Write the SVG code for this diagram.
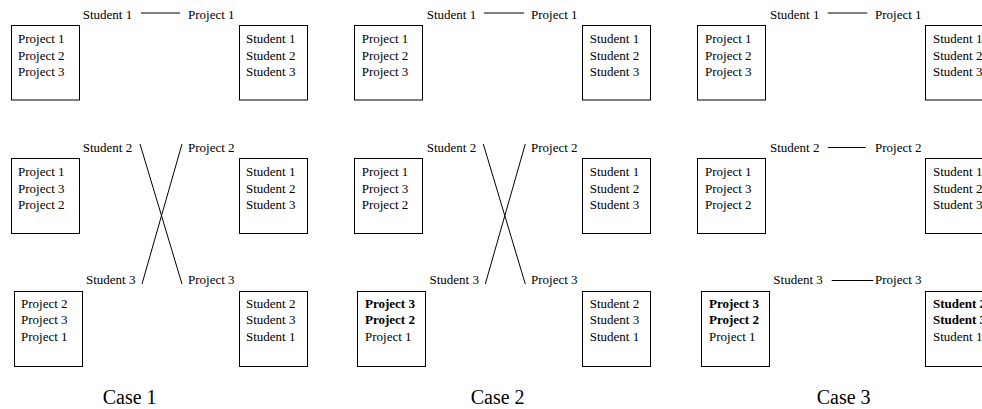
<svg xmlns="http://www.w3.org/2000/svg" width="982" height="409" viewBox="0 0 982 409">
<style>
text{font-family:"Liberation Serif","Times New Roman",serif;font-size:13px;fill:#000}
.b{font-weight:bold}
.case{font-size:20px}
rect{fill:#fff;stroke:#000;stroke-width:1}
line{stroke:#000;stroke-width:1}
</style>
<rect x="0" y="0" width="982" height="409" style="stroke:none"/>
<!-- Case 1 -->
<g id="case1">
<g id="c1-s1"><text x="82.7" y="19">Student 1</text></g>
<g id="c1-p1"><text x="188" y="19">Project 1</text></g>
<g id="c1-box1L"><rect x="11.5" y="25.5" width="68" height="74.5"/><text x="18" y="43">Project 1</text><text x="18" y="59.7">Project 2</text><text x="18" y="76.3">Project 3</text></g>
<g id="c1-box1R"><rect x="239.5" y="25.5" width="68" height="74.5"/><text x="246" y="43">Student 1</text><text x="246" y="59.7">Student 2</text><text x="246" y="76.3">Student 3</text></g>
<g id="c1-s2"><text x="82.7" y="151.5">Student 2</text></g>
<g id="c1-p2"><text x="188" y="151.5">Project 2</text></g>
<g id="c1-box2L"><rect x="11.5" y="158.5" width="68" height="75"/><text x="18" y="176">Project 1</text><text x="18" y="192.7">Project 3</text><text x="18" y="209.3">Project 2</text></g>
<g id="c1-box2R"><rect x="239.5" y="158.5" width="68" height="75"/><text x="246" y="176">Student 1</text><text x="246" y="192.7">Student 2</text><text x="246" y="209.3">Student 3</text></g>
<g id="c1-s3"><text x="86" y="283.5">Student 3</text></g>
<g id="c1-p3"><text x="188" y="283.5">Project 3</text></g>
<g id="c1-box3L"><rect x="14.5" y="291.5" width="68" height="75"/><text x="21" y="307.7">Project 2</text><text x="21" y="324.3">Project 3</text><text x="21" y="341">Project 1</text></g>
<g id="c1-box3R"><rect x="239.5" y="291.5" width="68" height="75"/><text x="246" y="307.7">Student 2</text><text x="246" y="324.3">Student 3</text><text x="246" y="341">Student 1</text></g>
<g id="c1-label"><text class="case" x="102.7" y="404">Case 1</text></g>
</g>
<!-- Case 2 -->
<g id="case2">
<g id="c2-s1"><text x="426.7" y="19">Student 1</text></g>
<g id="c2-p1"><text x="531" y="19">Project 1</text></g>
<g id="c2-box1L"><rect x="354.5" y="25.5" width="68" height="74.5"/><text x="361.7" y="43">Project 1</text><text x="361.7" y="59.7">Project 2</text><text x="361.7" y="76.3">Project 3</text></g>
<g id="c2-box1R"><rect x="582.5" y="25.5" width="68" height="74.5"/><text x="589.7" y="43">Student 1</text><text x="589.7" y="59.7">Student 2</text><text x="589.7" y="76.3">Student 3</text></g>
<g id="c2-s2"><text x="426.7" y="151.5">Student 2</text></g>
<g id="c2-p2"><text x="531" y="151.5">Project 2</text></g>
<g id="c2-box2L"><rect x="354.5" y="158.5" width="68" height="75"/><text x="361.7" y="176">Project 1</text><text x="361.7" y="192.7">Project 3</text><text x="361.7" y="209.3">Project 2</text></g>
<g id="c2-box2R"><rect x="582.5" y="158.5" width="68" height="75"/><text x="589.7" y="176">Student 1</text><text x="589.7" y="192.7">Student 2</text><text x="589.7" y="209.3">Student 3</text></g>
<g id="c2-s3"><text x="429.5" y="283.5">Student 3</text></g>
<g id="c2-p3"><text x="531" y="283.5">Project 3</text></g>
<g id="c2-box3L"><rect x="357.5" y="291.5" width="68" height="75"/><text class="b" x="365" y="307.7">Project 3</text><text class="b" x="365" y="324.3">Project 2</text><text x="365" y="341">Project 1</text></g>
<g id="c2-box3R"><rect x="582.5" y="291.5" width="68" height="75"/><text x="589.7" y="307.7">Student 2</text><text x="589.7" y="324.3">Student 3</text><text x="589.7" y="341">Student 1</text></g>
<g id="c2-label"><text class="case" x="470.7" y="404">Case 2</text></g>
</g>
<!-- Case 3 -->
<g id="case3">
<g id="c3-s1"><text x="770" y="19">Student 1</text></g>
<g id="c3-p1"><text x="875" y="19">Project 1</text></g>
<g id="c3-box1L"><rect x="697.5" y="25.5" width="68" height="74.5"/><text x="705" y="43">Project 1</text><text x="705" y="59.7">Project 2</text><text x="705" y="76.3">Project 3</text></g>
<g id="c3-box1R"><rect x="925.5" y="25.5" width="68" height="74.5"/><text x="933" y="43">Student 1</text><text x="933" y="59.7">Student 2</text><text x="933" y="76.3">Student 3</text></g>
<g id="c3-s2"><text x="770" y="151.5">Student 2</text></g>
<g id="c3-p2"><text x="875" y="151.5">Project 2</text></g>
<g id="c3-box2L"><rect x="697.5" y="158.5" width="68" height="75"/><text x="705" y="176">Project 1</text><text x="705" y="192.7">Project 3</text><text x="705" y="209.3">Project 2</text></g>
<g id="c3-box2R"><rect x="925.5" y="158.5" width="68" height="75"/><text x="933" y="176">Student 1</text><text x="933" y="192.7">Student 2</text><text x="933" y="209.3">Student 3</text></g>
<g id="c3-s3"><text x="773.3" y="283.5">Student 3</text></g>
<g id="c3-p3"><text x="875" y="283.5">Project 3</text></g>
<g id="c3-box3L"><rect x="701.5" y="291.5" width="68" height="75"/><text class="b" x="709" y="307.7">Project 3</text><text class="b" x="709" y="324.3">Project 2</text><text x="709" y="341">Project 1</text></g>
<g id="c3-box3R"><rect x="925.5" y="291.5" width="68" height="75"/><text class="b" x="933" y="307.7">Student 2</text><text class="b" x="933" y="324.3">Student 3</text><text x="933" y="341">Student 1</text></g>
<g id="c3-label"><text class="case" x="816.7" y="404">Case 3</text></g>
</g>
<!-- Connectors -->
<g id="connectors">
<line x1="141" y1="13" x2="180" y2="13"/>
<line x1="140" y1="144" x2="182" y2="284"/>
<line x1="182" y1="144" x2="142" y2="284"/>
<line x1="484" y1="13" x2="524" y2="13"/>
<line x1="483.3" y1="144" x2="525.3" y2="284"/>
<line x1="525.3" y1="144" x2="485.3" y2="284"/>
<line x1="827.7" y1="13" x2="867.3" y2="13"/>
<line x1="827.7" y1="147.5" x2="865.7" y2="147.5"/>
<line x1="831.7" y1="280.5" x2="873.3" y2="280.5"/>
</g>
</svg>
